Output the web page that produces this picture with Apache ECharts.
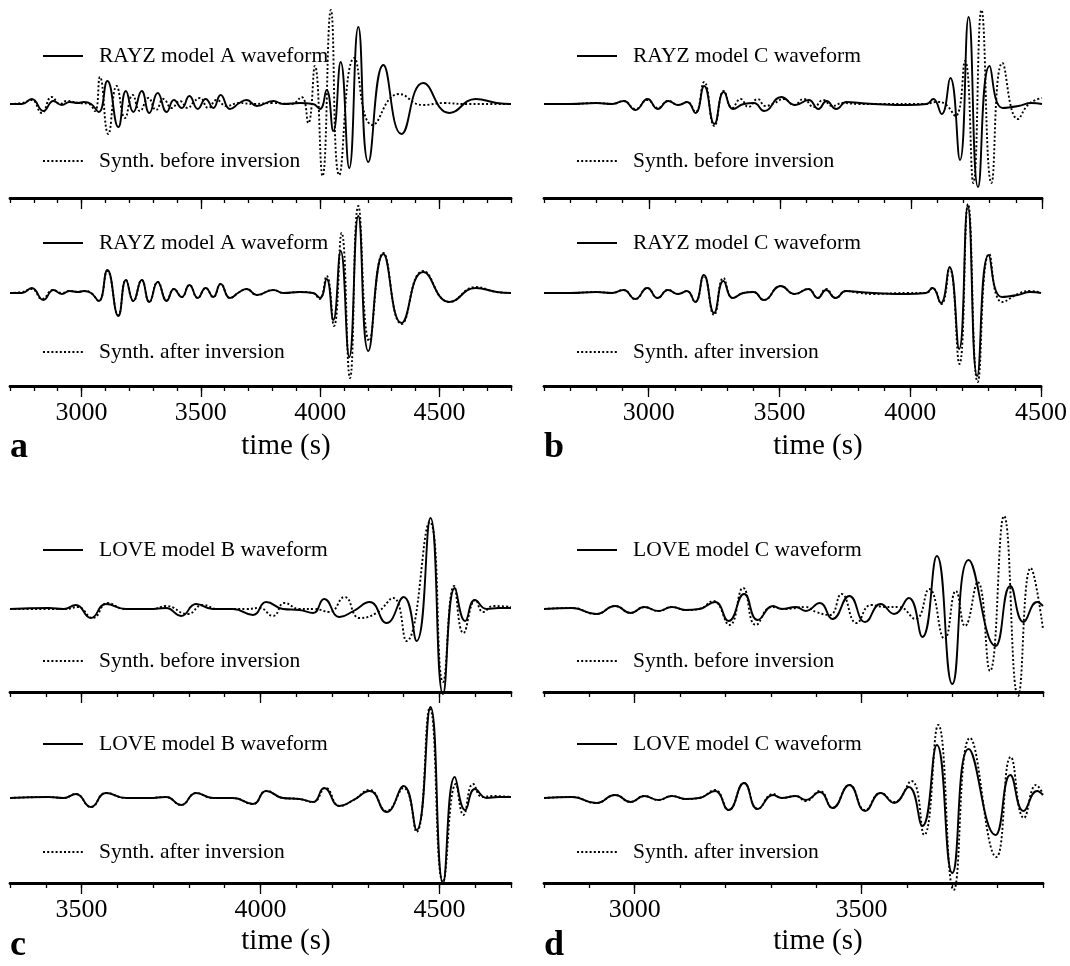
<!DOCTYPE html>
<html>
<head>
<meta charset="utf-8">
<script src="https://cdn.jsdelivr.net/npm/echarts@6/dist/echarts.min.js"></script>
<style>
  html, body { margin: 0; padding: 0; background: #fff; }
  #main { width: 1070px; height: 966px; }
</style>
</head>
<body>
<div id="main"></div>
<script>
// ---- data: [time (s), amplitude] ----
// panel a: RAYZ, model A
const rayzA = [[2700,0],[2750,0],[2791,5],[2840,-7],[2882,3],[2917,-1],[2950,2],[2985,1],[3010,2],[3040,0],[3072,-8],[3108,23],[3154,-23],[3186,13],[3217,-8],[3252,13],[3284,-9],[3319,11],[3357,-8],[3387,4],[3420,-4],[3452,8],[3487,-5],[3520,5],[3552,-4],[3583,9],[3622,-5],[3662,1],[3692,4],[3734,-2],[3804,3],[3846,0],[3915,1],[3970,0],[3999,-5],[4027,14],[4055,-27],[4086,42],[4122,-64],[4160,77],[4202,-58],[4265,39],[4341,-30],[4432,21],[4542,-9],[4652,5],[4740,1],[4800,0]];
const rayzABefore = [[2700,0],[2750,1],[2791,4],[2833,-9],[2875,7],[2910,0],[2938,3],[2990,1],[3030,0],[3056,-7],[3077,27],[3112,-30],[3147,18],[3182,-14],[3214,9],[3245,-7],[3280,6],[3312,-6],[3343,5],[3378,-4],[3412,3],[3445,-4],[3470,2],[3496,6],[3531,-4],[3566,4],[3608,-2],[3660,1],[3720,0],[3800,1],[3880,0],[3922,7],[3950,-19],[3978,38],[4010,-72],[4045,94],[4080,-71],[4143,46],[4220,-21],[4330,10],[4430,-1],[4520,1],[4600,0],[4800,0]];
const rayzAAfter = [[2700,0],[2750,1],[2791,4],[2835,-6],[2880,3],[2917,0],[2950,2],[2985,1],[3010,2],[3040,0],[3072,-8],[3108,22],[3154,-22],[3186,13],[3217,-8],[3252,13],[3284,-9],[3319,11],[3357,-7],[3387,4],[3420,-4],[3452,8],[3487,-5],[3520,5],[3552,-4],[3583,9],[3622,-5],[3662,1],[3692,4],[3734,-2],[3804,3],[3846,0],[3915,1],[3970,0],[3997,-6],[4027,17],[4058,-33],[4090,60],[4125,-85],[4160,87],[4206,-48],[4265,40],[4341,-31],[4432,22],[4542,-9],[4652,6],[4740,1],[4800,0]];

// panel b: RAYZ, model C
const rayzC = [[2600,0],[2700,0],[2800,1],[2860,0],[2904,3],[2949,-6],[2995,5],[3034,-5],[3074,3],[3113,-1],[3146,2],[3178,-9],[3211,18],[3250,-20],[3286,12],[3322,-5],[3362,0],[3401,1],[3440,-7],[3505,7],[3558,-1],[3610,4],[3647,-5],[3678,3],[3715,-5],[3754,2],[3806,1],[3859,0],[3990,-1],[4060,0],[4085,5],[4117,-10],[4150,26],[4187,-56],[4220,87],[4256,-83],[4300,38],[4350,-4],[4410,-2],[4460,1],[4500,0]];
const rayzCBefore = [[2600,0],[2700,0],[2800,1],[2860,0],[2904,3],[2949,-5],[2995,4],[3034,-4],[3074,3],[3113,-1],[3146,2],[3178,-8],[3211,22],[3250,-22],[3286,13],[3318,-4],[3350,5],[3380,-3],[3415,5],[3445,-2],[3480,1],[3515,5],[3555,-1],[3590,5],[3630,-3],[3665,4],[3700,-2],[3740,1],[3800,0],[3900,0],[4050,0],[4100,2],[4130,0],[4170,-12],[4206,43],[4238,-79],[4269,94],[4307,-79],[4349,41],[4408,-15],[4450,0],[4500,6]];
const rayzCAfter = [[2600,0],[2700,0],[2800,1],[2860,0],[2904,3],[2949,-6],[2995,5],[3034,-5],[3074,3],[3113,-1],[3146,2],[3178,-9],[3211,17],[3250,-22],[3286,15],[3322,-5],[3362,0],[3401,1],[3440,-7],[3505,7],[3558,-1],[3610,4],[3647,-5],[3678,4],[3715,-5],[3754,2],[3806,0],[3859,-1],[3990,0],[4060,0],[4085,5],[4119,-11],[4150,25],[4188,-71],[4221,89],[4258,-89],[4302,39],[4352,-9],[4420,0],[4460,2],[4500,0]];

// panel c: LOVE, model B
const loveB = [[3300,0],[3409,1],[3450,0],[3484,4],[3526,-9],[3568,5],[3624,0],[3689,0],[3736,1],[3778,-7],[3820,5],[3867,0],[3923,0],[3979,-6],[4016,7],[4063,0],[4109,-1],[4147,-4],[4178,10],[4221,-8],[4260,-2],[4305,7],[4352,-14],[4400,12],[4436,-32],[4475,91],[4510,-85],[4543,21],[4572,-12],[4599,9],[4632,0],[4665,1],[4700,1]];
const loveBBefore = [[3300,0],[3400,0],[3456,0],[3489,2],[3531,-9],[3573,6],[3620,0],[3700,0],[3736,3],[3796,-5],[3839,4],[3880,0],[3960,0],[3997,1],[4035,-7],[4067,6],[4109,0],[4150,0],[4193,-3],[4235,12],[4277,-9],[4324,-4],[4371,11],[4408,-32],[4473,87],[4510,-73],[4541,23],[4567,-24],[4601,9],[4622,-3],[4651,3],[4700,2]];
const loveBAfter = [[3300,0],[3409,1],[3450,0],[3484,4],[3526,-9],[3568,5],[3624,0],[3689,0],[3736,1],[3778,-7],[3820,5],[3867,0],[3923,0],[3979,-6],[4016,7],[4063,0],[4109,-1],[4147,-4],[4182,10],[4221,-8],[4260,-2],[4305,8],[4352,-13],[4400,10],[4436,-34],[4473,90],[4510,-84],[4546,14],[4567,-17],[4594,14],[4620,1],[4650,2],[4700,1]];

// panel d: LOVE, model C
const loveC = [[2800,0],[2862,1],[2915,-5],[2957,3],[2991,-4],[3021,2],[3052,-2],[3082,2],[3112,-1],[3142,0],[3177,7],[3207,-12],[3241,15],[3271,-11],[3305,3],[3324,0],[3355,2],[3377,-2],[3408,6],[3436,-10],[3473,13],[3508,-13],[3542,5],[3572,-5],[3604,11],[3634,-28],[3666,53],[3700,-75],[3736,49],[3795,-37],[3828,23],[3857,-13],[3887,7],[3900,3]];
const loveCBefore = [[2800,0],[2862,1],[2915,-5],[2957,3],[2991,-4],[3021,2],[3052,-2],[3082,2],[3112,-1],[3142,0],[3173,8],[3209,-16],[3239,21],[3267,-16],[3302,2],[3332,0],[3377,2],[3400,-3],[3430,-6],[3456,15],[3489,-14],[3521,4],[3553,2],[3582,2],[3619,-10],[3649,20],[3683,-30],[3708,18],[3728,-17],[3756,27],[3783,-62],[3814,93],[3845,-87],[3873,41],[3900,-20]];
const loveCAfter = [[2800,0],[2862,1],[2915,-5],[2957,3],[2991,-4],[3021,2],[3052,-2],[3082,2],[3112,-1],[3142,0],[3177,8],[3207,-12],[3241,15],[3271,-11],[3305,4],[3324,0],[3355,2],[3377,-3],[3408,7],[3436,-10],[3473,13],[3508,-12],[3542,5],[3572,-4],[3610,17],[3638,-37],[3669,73],[3703,-92],[3739,60],[3797,-59],[3829,41],[3858,-20],[3885,13],[3900,4]];

// labelled ticks
const ticksA = [3000, 3500, 4000, 4500];
const ticksB = [3000, 3500, 4000, 4500];
const ticksC = [3500, 4000, 4500];
const ticksD = [3000, 3500];

// ---- layout ----
const FONT = 'Liberation Serif';
const rows = [
  { top: 2,   mid: 198, bot: 386, base1: 104, base2: 293, leg: [57, 162, 244, 353], titleY: 446, letterY: 448 },
  { top: 490, mid: 692, bot: 883, base1: 609, base2: 798, leg: [551, 662, 745, 853], titleY: 941, letterY: 946 }
];
const panels = [
  { letter: 'a', row: 0, left: 10,  right: 511,  xMin: 2700, xMax: 4800, ticks: ticksA, name: 'RAYZ model A waveform', obs: rayzA, before: rayzABefore, after: rayzAAfter, titleX: 286 },
  { letter: 'b', row: 0, left: 544, right: 1042, xMin: 2600, xMax: 4500, ticks: ticksB, name: 'RAYZ model C waveform', obs: rayzC, before: rayzCBefore, after: rayzCAfter, titleX: 818 },
  { letter: 'c', row: 1, left: 10,  right: 511,  xMin: 3300, xMax: 4700, ticks: ticksC, name: 'LOVE model B waveform', obs: loveB, before: loveBBefore, after: loveBAfter, titleX: 286 },
  { letter: 'd', row: 1, left: 544, right: 1043, xMin: 2800, xMax: 3900, ticks: ticksD, name: 'LOVE model C waveform', obs: loveC, before: loveCBefore, after: loveCAfter, titleX: 818 }
];

const option = { animation: false, backgroundColor: '#fff', color: ['#000'], grid: [], xAxis: [], yAxis: [], series: [], legend: [], graphic: [] };

function legendFor(name, left, y) {
  return {
    data: [name], left: left - 5, top: y - 17, itemWidth: 40, itemHeight: 14, selectedMode: false,
    itemStyle: { opacity: 0 },
    textStyle: { fontFamily: FONT, fontSize: 21.5, color: '#000', padding: [0, 0, 0, 11] }
  };
}

panels.forEach(p => {
  const r = rows[p.row];
  [0, 1].forEach(k => {
    const gi = option.grid.length;
    const top = k === 0 ? r.top : r.mid;
    const bottom = k === 0 ? r.mid : r.bot;
    const base = k === 0 ? r.base1 : r.base2;
    option.grid.push({ left: p.left, top: top, width: p.right - p.left, height: bottom - top });

    const xi = option.xAxis.length;
    // main axis: thick line, long ticks at the labelled values
    option.xAxis.push({
      gridIndex: gi, type: 'value', min: p.xMin, max: p.xMax, position: 'bottom',
      axisLine: { show: true, onZero: false, lineStyle: { color: '#000', width: 2.8 } },
      axisTick: { show: true, customValues: p.ticks, length: 11, lineStyle: { color: '#000', width: 1.3 } },
      axisLabel: k === 1
        ? { show: true, customValues: p.ticks, formatter: v => String(v), fontFamily: FONT, fontSize: 26, color: '#000', margin: 14 }
        : { show: false },
      splitLine: { show: false }
    });
    // minor ticks every 100 s
    option.xAxis.push({
      gridIndex: gi, type: 'value', min: p.xMin, max: p.xMax, interval: 100, position: 'bottom',
      axisLine: { show: false, onZero: false },
      axisTick: { show: true, length: 5, lineStyle: { color: '#000', width: 1.3 } },
      axisLabel: { show: false }, splitLine: { show: false }
    });
    const yi = option.yAxis.length;
    option.yAxis.push({ gridIndex: gi, type: 'value', min: -(bottom - base), max: base - top, show: false });

    const dotName = k === 0 ? 'Synth. before inversion' : 'Synth. after inversion';
    option.series.push({
      name: p.name, type: 'line', xAxisIndex: xi, yAxisIndex: yi, data: p.obs,
      symbol: 'none', smooth: 0.5, clip: false, itemStyle: { color: '#000' },
      lineStyle: { color: '#000', width: 1.9 }
    });
    option.series.push({
      name: dotName, type: 'line', xAxisIndex: xi, yAxisIndex: yi, data: k === 0 ? p.before : p.after,
      symbol: 'none', smooth: 0.5, clip: false, itemStyle: { color: '#000' },
      lineStyle: { color: '#000', width: 1.9, type: [2, 2.2] }
    });

    option.legend.push(legendFor(p.name, p.left + 32, r.leg[k * 2]));
    option.legend.push(legendFor(dotName, p.left + 32, r.leg[k * 2 + 1]));
  });

  option.graphic.push({
    type: 'text', x: p.titleX, y: r.titleY,
    style: { text: 'time (s)', font: '29px "' + FONT + '"', fill: '#000', align: 'center', verticalAlign: 'middle' }
  });
  option.graphic.push({
    type: 'text', x: p.left, y: r.letterY,
    style: { text: p.letter, font: 'bold 36px "' + FONT + '"', fill: '#000', align: 'left', verticalAlign: 'middle' }
  });
});

const chart = echarts.init(document.getElementById('main'), null, { renderer: 'canvas' });
chart.setOption(option);
</script>
</body>
</html>
